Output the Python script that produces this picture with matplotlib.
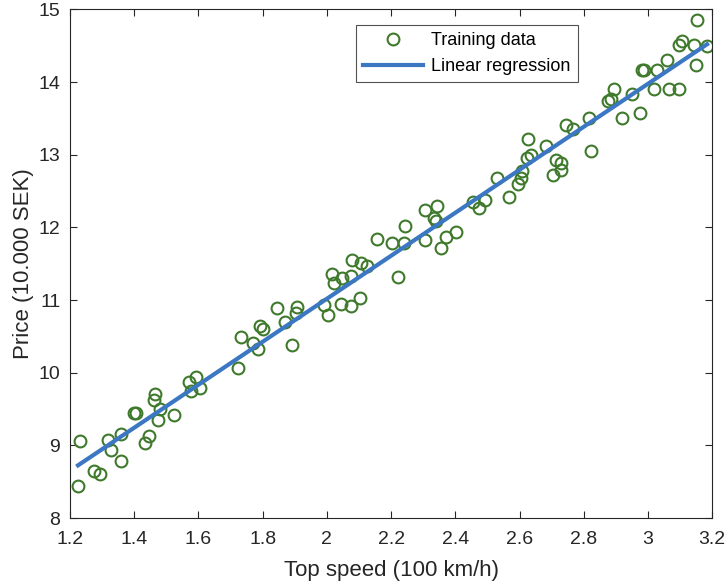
import numpy as np
import matplotlib.pyplot as plt

# --------------------------
# DATA
# --------------------------
top_speed = [
    1.225, 1.231, 1.275, 1.293, 1.318, 1.328, 1.359, 1.359, 1.399, 1.405,
    1.434, 1.446, 1.462, 1.465, 1.474, 1.480, 1.524, 1.571, 1.577, 1.593,
    1.605, 1.723, 1.733, 1.770, 1.786, 1.792, 1.801, 1.845, 1.870, 1.892,
    1.904, 1.907, 1.991, 2.004, 2.016, 2.022, 2.044, 2.047, 2.075, 2.075,
    2.078, 2.103, 2.106, 2.125, 2.156, 2.203, 2.222, 2.240, 2.244, 2.306,
    2.306, 2.334, 2.340, 2.343, 2.356, 2.371, 2.402, 2.455, 2.474, 2.493,
    2.530, 2.567, 2.596, 2.605, 2.608, 2.624, 2.627, 2.636, 2.683, 2.704,
    2.713, 2.729, 2.729, 2.745, 2.767, 2.817, 2.823, 2.876, 2.885, 2.895,
    2.920, 2.951, 2.976, 2.982, 2.988, 3.019, 3.029, 3.060, 3.066, 3.097,
    3.097, 3.107, 3.144, 3.150, 3.153, 3.184,
]
price = [
    8.44, 9.06, 8.65, 8.61, 9.07, 8.94, 9.16, 8.79, 9.45, 9.45,
    9.03, 9.13, 9.63, 9.71, 9.35, 9.50, 9.42, 9.87, 9.75, 9.94,
    9.79, 10.07, 10.49, 10.41, 10.33, 10.64, 10.60, 10.89, 10.70, 10.38,
    10.82, 10.91, 10.93, 10.80, 11.36, 11.24, 10.95, 11.31, 10.92, 11.33,
    11.55, 11.03, 11.51, 11.47, 11.84, 11.79, 11.32, 11.79, 12.02, 11.83,
    12.24, 12.13, 12.09, 12.30, 11.72, 11.87, 11.94, 12.35, 12.26, 12.37,
    12.68, 12.42, 12.60, 12.68, 12.78, 12.95, 13.21, 13.00, 13.12, 12.72,
    12.93, 12.89, 12.79, 13.41, 13.36, 13.50, 13.05, 13.74, 13.76, 13.90,
    13.50, 13.83, 13.58, 14.16, 14.16, 13.90, 14.17, 14.31, 13.90, 13.90,
    14.51, 14.57, 14.51, 14.24, 14.85, 14.50,
]

GREEN = "#3f7a2c"
BLUE = "#3b77c2"
AXIS_GRAY = "#262626"

plt.rcParams["font.family"] = ["Liberation Sans", "DejaVu Sans"]

x = np.array(top_speed)
y = np.array(price)

# least squares fit, drawn across the data range
slope, intercept = np.polyfit(x, y, 1)
x_fit = np.array([x.min(), x.max()])
y_fit = slope * x_fit + intercept

fig = plt.figure(figsize=(7.26, 5.86), dpi=100)
ax = fig.add_axes([0.0964, 0.116, 0.8846, 0.868])

ax.plot(x, y, "o", markerfacecolor="none", markeredgecolor=GREEN,
        markersize=8.5, markeredgewidth=1.5, label="Training data")
ax.plot(x_fit, y_fit, "-", color=BLUE, linewidth=3, label="Linear regression")

ax.set_xlim(1.2, 3.2)
ax.set_ylim(8, 15)
ax.set_xticks(np.arange(1.2, 3.21, 0.2))
ax.set_xticklabels(["1.2", "1.4", "1.6", "1.8", "2", "2.2", "2.4", "2.6", "2.8", "3", "3.2"])
ax.set_yticks(range(8, 16))

ax.tick_params(direction="in", top=True, right=True, length=5, width=0.8,
               colors=AXIS_GRAY, labelsize=14)
ax.tick_params(axis="x", pad=9)
ax.tick_params(axis="y", pad=7)
for s in ax.spines.values():
    s.set_color(AXIS_GRAY)
    s.set_linewidth(0.8)

ax.set_xlabel("Top speed (100 km/h)", fontsize=16, color=AXIS_GRAY, labelpad=9)
ax.set_ylabel("Price (10.000 SEK)", fontsize=16, color=AXIS_GRAY, labelpad=3)

leg = ax.legend(loc="upper left", bbox_to_anchor=(0.4455, 0.9695), borderaxespad=0,
                fontsize=13, frameon=True, fancybox=False, edgecolor=AXIS_GRAY,
                handlelength=3.3, handletextpad=0.45, borderpad=0.4, labelspacing=0.5)
leg.get_frame().set_linewidth(0.8)

fig.savefig("out.png", dpi=100)
